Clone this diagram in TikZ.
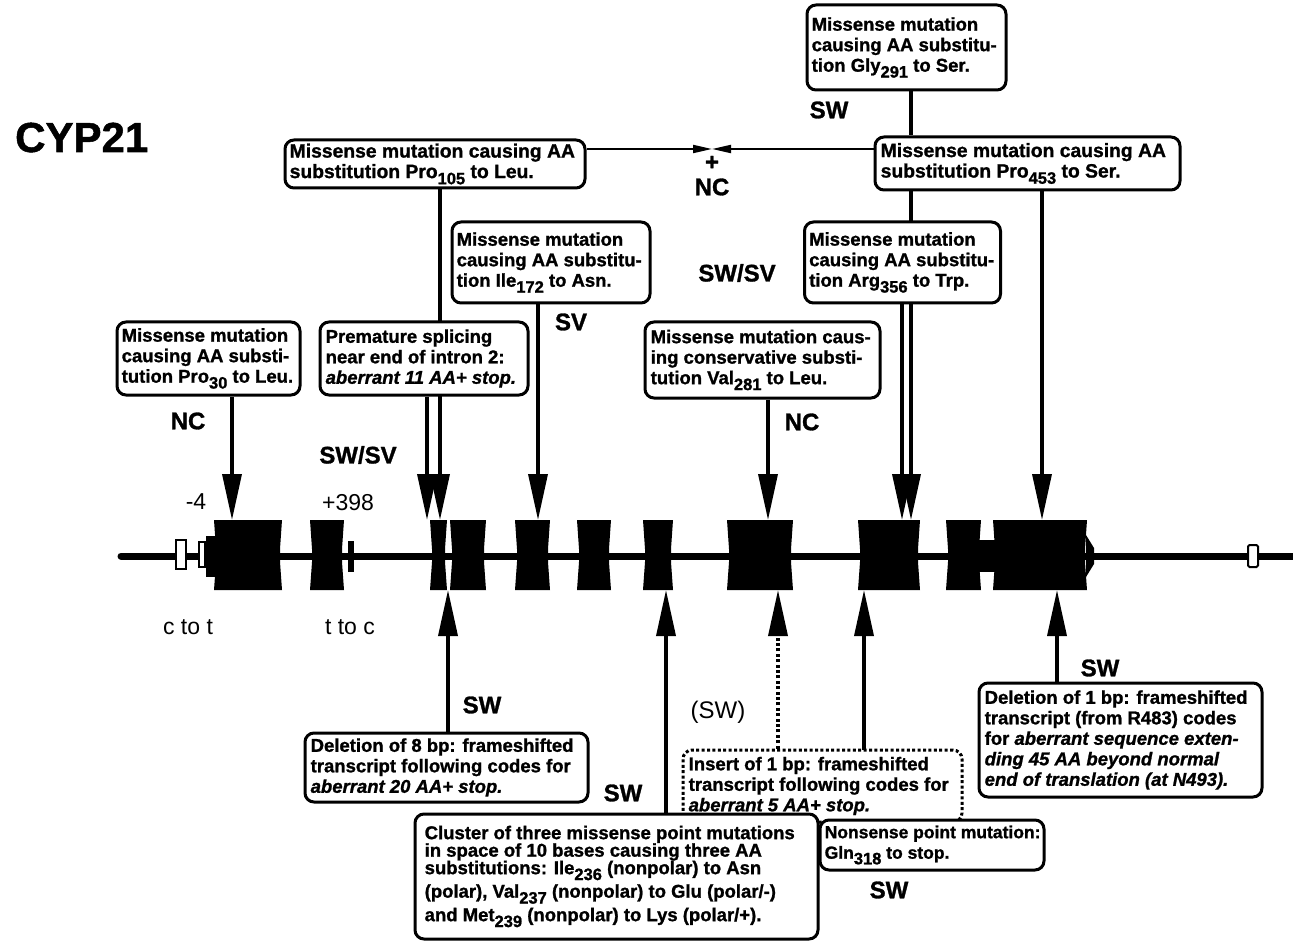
\documentclass[tikz,border=0pt]{standalone}
\usepackage{fontspec}
\setmainfont{Liberation Sans}[BoldFeatures={FakeBold=1.2},BoldItalicFeatures={FakeBold=1.2}]
\usetikzlibrary{arrows.meta,calc}
\pgfdeclarelayer{back}
\pgfdeclarelayer{bg}
\pgfsetlayers{back,bg,main}
\newcommand{\lsub}[1]{\raisebox{-0.32em}{\fontsize{16.5}{16.5}\selectfont #1}}
\newcommand{\exon}[2]{\fill (#1,520) -- (#2,520) -- (#2-2,549) -- (#2-2,562) -- (#2,590) -- (#1,590) -- (#1+2,562) -- (#1+2,549) -- cycle;}
\begin{document}
\begin{tikzpicture}[x=1pt,y=-1pt,
  box/.style={draw, line width=3pt, rounded corners=9pt, fill=white, inner sep=0pt},
  dbox/.style={box, dash pattern=on 3pt off 2.4pt},
  txt/.style={anchor=west, align=left, inner sep=0pt, font=\fontsize{18.5}{20.5}\selectfont\bfseries},
  lab/.style={font=\fontsize{24}{24}\selectfont\bfseries, inner sep=0pt},
  plab/.style={font=\fontsize{24}{24}\selectfont, inner sep=0pt},
  num/.style={font=\fontsize{23}{23}\selectfont, inner sep=0pt},
  big/.style={line width=3.5pt, -{Triangle[length=46pt,width=19pt]}},
  sml/.style={line width=2pt, -{Triangle[length=19pt,width=8pt]}}
]
\begin{pgfonlayer}{back}
\fill[white] (0,0) rectangle (1293,941);
\end{pgfonlayer}
\useasboundingbox (0,0) rectangle (1293,941);

% title
\node[anchor=base west, inner sep=0pt, font=\fontsize{42}{42}\selectfont\bfseries] (title) at (15,152) {CYP21};

% upper boxes
\node[box, minimum width=199, minimum height=85] (gly) at (906.5,47.5) {};
\node[txt] (glyt) at ([xshift=6pt]gly.west)
  {Missense mutation\\causing AA substitu-\\tion Gly\lsub{291} to Ser.};
\node[box, minimum width=300, minimum height=48] (p105) at (435,164) {};
\node[txt, font=\fontsize{19.3}{20.5}\selectfont\bfseries] (p105t) at ([xshift=6pt]p105.west)
  {Missense mutation causing AA\\substitution Pro\lsub{105} to Leu.};
\node[box, minimum width=305, minimum height=53] (p453) at (1027.5,163.5) {};
\node[txt, font=\fontsize{19.3}{20.5}\selectfont\bfseries] (p453t) at ([xshift=7pt]p453.west)
  {Missense mutation causing AA\\substitution Pro\lsub{453} to Ser.};
\node[box, minimum width=198, minimum height=81] (ile) at (551,262.5) {};
\node[txt] (ilet) at ([xshift=6pt]ile.west)
  {Missense mutation\\causing AA substitu-\\tion Ile\lsub{172} to Asn.};
\node[box, minimum width=196, minimum height=81] (arg) at (902.5,262.5) {};
\node[txt] (argt) at ([xshift=6pt]arg.west)
  {Missense mutation\\causing AA substitu-\\tion Arg\lsub{356} to Trp.};
\node[box, minimum width=183, minimum height=73] (p30) at (208.5,358.5) {};
\node[txt] (p30t) at ([xshift=6pt]p30.west)
  {Missense mutation\\causing AA substi-\\tution Pro\lsub{30} to Leu.};
\node[box, minimum width=208, minimum height=73] (spl) at (424,358.5) {};
\node[txt] (splt) at ([xshift=7pt]spl.west)
  {Premature splicing\\near end of intron 2:\\\textit{aberrant 11 AA+ stop.}};
\node[box, minimum width=235, minimum height=76] (val) at (762.5,360) {};
\node[txt] (valt) at ([xshift=7pt]val.west)
  {Missense mutation caus-\\ing conservative substi-\\tution Val\lsub{281} to Leu.};

% lower boxes
\node[box, minimum width=283, minimum height=69] (del8) at (446.5,767.5) {};
\node[txt] (del8t) at ([xshift=7pt]del8.west)
  {Deletion of 8 bp: frameshifted\\transcript following codes for\\\textit{aberrant 20 AA+ stop.}};
\node[dbox, minimum width=279, minimum height=72] (ins) at (822.5,786) {};
\node[txt] (inst) at ([xshift=7pt]ins.west)
  {Insert of 1 bp: frameshifted\\transcript following codes for\\\textit{aberrant 5 AA+ stop.}};
\node[box, minimum width=403, minimum height=125] (clu) at (616.5,876.5) {};
\node[txt] (clut) at ([xshift=11pt]clu.west)
  {Cluster of three missense point mutations\\[-3pt]in space of 10 bases causing three AA\\[-3pt]substitutions: Ile\lsub{236} (nonpolar) to Asn\\[3pt](polar), Val\lsub{237} (nonpolar) to Glu (polar/-)\\[3pt]and Met\lsub{239} (nonpolar) to Lys (polar/+).};
\node[box, minimum width=224, minimum height=50] (non) at (932,845) {};
\node[txt, font=\fontsize{17.5}{20.5}\selectfont\bfseries] (nont) at ([xshift=6pt]non.west)
  {Nonsense point mutation:\\Gln\lsub{318} to stop.};
\node[box, minimum width=283, minimum height=114] (del1) at (1120.5,740) {};
\node[txt] (del1t) at ([xshift=7pt]del1.west)
  {Deletion of 1 bp: frameshifted\\transcript (from R483) codes\\for \textit{aberrant sequence exten-}\\\textit{ding 45 AA beyond normal}\\\textit{end of translation (at N493).}};

% labels
\node[lab] (l1) at (829,110) {SW};
\node[lab] (l2) at (712,163) {+};
\node[lab] (l3) at (712,187) {NC};
\node[lab] (l4) at (737,273) {SW/SV};
\node[lab] (l5) at (571,322) {SV};
\node[lab] (l6) at (188,421) {NC};
\node[lab] (l7) at (802,422) {NC};
\node[lab] (l8) at (358,455) {SW/SV};
\node[lab] (l9) at (482,705) {SW};
\node[plab] (l10) at (718,712) {(SW)};
\node[lab] (l11) at (623,793) {SW};
\node[lab] (l12) at (889,890) {SW};
\node[lab] (l13) at (1100,668) {SW};
\node[num] (n1) at (196,502) {-4};
\node[num] (n2) at (348,503) {+398};
\node[num] (n3) at (188,627) {c to t};
\node[num] (n4) at (350,627) {t to c};

% arrow tip coordinates on the gene
\coordinate (a30) at (232,520);
\coordinate (aspl) at (427,520);
\coordinate (a105) at (440,520);
\coordinate (a172) at (538,520);
\coordinate (a281) at (768,520);
\coordinate (a356) at (902,520);
\coordinate (a453b) at (911,520);
\coordinate (a453) at (1042,520);
\coordinate (b8) at (448,590);
\coordinate (bclu) at (666,590);
\coordinate (bins) at (778,590);
\coordinate (bnon) at (864,590);
\coordinate (bdel1) at (1057,590);
\coordinate (nc) at (712,149);

\begin{pgfonlayer}{bg}
% gene
\draw[line width=7pt, line cap=round] (121,556) -- (1293,556);
\fill (206,536) rectangle (216,577);
\exon{214}{282}
\exon{310}{344}
\fill (348,541) rectangle (354,572);
\exon{430}{447}
\exon{450}{486}
\exon{515}{550}
\exon{577}{611}
\exon{643}{673}
\exon{727}{793}
\exon{858}{920}
\exon{946}{981}
\fill (979,540) rectangle (995,572);
\exon{993}{1087}
\fill (1086,535) -- (1094,548) -- (1094,564) -- (1086,577) -- cycle;
\draw[line width=2pt, fill=white] (176,540) rectangle (186,569);
\draw[line width=2pt, fill=white] (199,542) rectangle (205,567);
\draw[line width=2pt, fill=white, rounded corners=1.5pt] (1248,545) rectangle (1258,567);

% connectors
\draw[line width=3.5pt] (gly.south -| a453b) -- (p453.north -| a453b);
\draw[big] (p453.south -| a453b) -- (a453b);
\draw[big] (arg.south -| a356) -- (a356);
\draw[big] (p453.south -| a453) -- (a453);
\draw[big] (p105.south -| a105) -- (a105);
\draw[big] (spl.south -| aspl) -- (aspl);
\draw[big] (p30.south -| a30) -- (a30);
\draw[big] (ile.south -| a172) -- (a172);
\draw[big] (val.south -| a281) -- (a281);
\draw[sml] (p105.east |- nc) -- (nc);
\draw[sml] (p453.west |- nc) -- (nc);

\draw[big] (del8.north -| b8) -- (b8);
\draw[big] (clu.north -| bclu) -- (bclu);
\draw[big] (non.north -| bnon) -- (bnon);
\draw[big, dash pattern=on 3pt off 2.4pt] (ins.north -| bins) -- (bins);
\draw[big] (del1.north -| bdel1) -- (bdel1);
\end{pgfonlayer}
\end{tikzpicture}
\end{document}
